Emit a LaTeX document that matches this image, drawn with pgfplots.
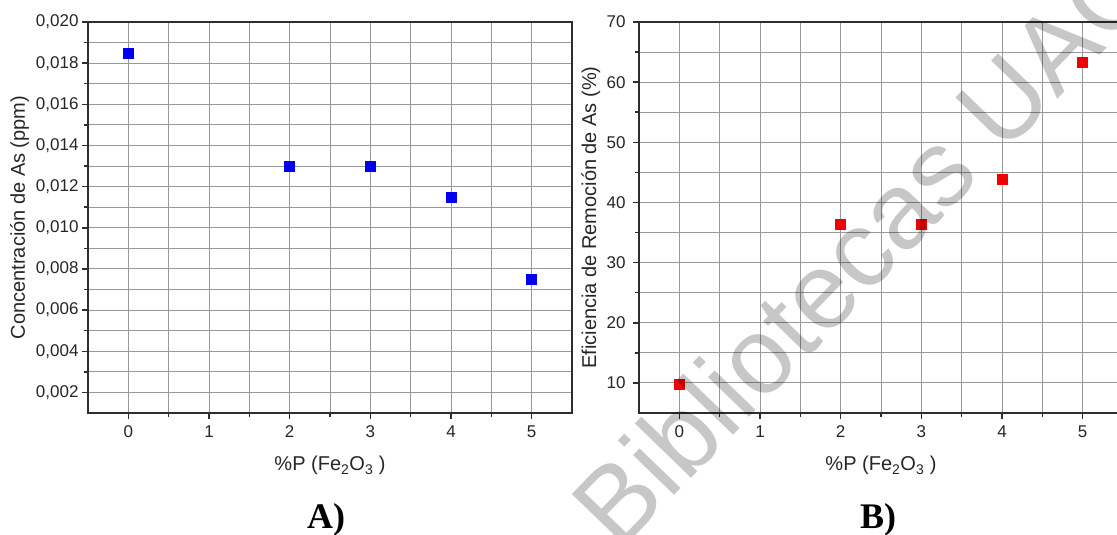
\documentclass[border=0pt]{standalone}
\usepackage{pgfplots}
\pgfplotsset{compat=1.18}
\usepackage{fontspec}
\setmainfont{Liberation Sans}
\newfontfamily\serifbf{Liberation Serif}
\definecolor{myblue}{RGB}{0,0,238}
\definecolor{myred}{RGB}{240,0,0}
\pgfplotsset{
 myaxis/.style={
  scale only axis, width=484pt, height=391pt,
  xmin=-0.5, xmax=5.5, xtick={0,1,2,3,4,5}, minor x tick num=1,
  tick align=outside, xtick pos=bottom, ytick pos=left,
  major tick length=6pt, minor tick length=4pt,
  grid=both,
  major grid style={black!40, line width=0.9pt},
  minor grid style={black!40, line width=0.9pt},
  axis line style={line width=2.2pt, black!82},
  every tick/.style={black!82, line width=1.5pt},
  tick label style={font=\fontsize{17}{20}\selectfont, text=black!85},
  xticklabel style={yshift=-3pt},
  label style={font=\fontsize{20}{24}\selectfont, text=black!85},
  /pgf/number format/assume math mode=true,
  xlabel={\%P (Fe\textsubscript{2}O\textsubscript{3} )},
  xlabel style={at={(axis description cs:0.5,-0.135)}, anchor=center},
 }
}
\begin{document}
\begin{tikzpicture}
\useasboundingbox (0,0) rectangle (1117pt,535pt);
\clip (0,0) rectangle (1117pt,535pt);
\begin{axis}[myaxis, at={(88pt,122pt)}, anchor=south west,
  ymin=0.001, ymax=0.020,
  ytick={0.002,0.004,0.006,0.008,0.010,0.012,0.014,0.016,0.018,0.020},
  minor y tick num=1, scaled y ticks=false,
  yticklabel style={/pgf/number format/.cd, fixed, fixed zerofill, precision=3, use comma},
  ylabel={Concentración de As (ppm)},
  ylabel style={at={(axis description cs:-0.1415,0.5)}, anchor=center},
]
\addplot[only marks, mark=square*, mark size=5pt, myblue, mark options={fill=myblue, draw=myblue}]
 coordinates {(0,0.0185) (2,0.0130) (3,0.0130) (4,0.0115) (5,0.0075)};
\end{axis}
\begin{axis}[myaxis, at={(639pt,122pt)}, anchor=south west,
  ymin=5, ymax=70,
  ytick={10,20,30,40,50,60,70},
  minor y tick num=1,
  yticklabel style={xshift=-4pt},
  ylabel={Eficiencia de Remoción de As (\%)},
  ylabel style={at={(axis description cs:-0.0994,0.5)}, anchor=center},
]
\addplot[only marks, mark=square*, mark size=5pt, myred, mark options={fill=myred, draw=myred}]
 coordinates {(0,9.8) (2,36.4) (3,36.4) (4,43.8) (5,63.3)};
\end{axis}
\node[font=\serifbf\bfseries\fontsize{36}{40}\selectfont, anchor=base] at (326pt,6pt) {A)};
\node[font=\serifbf\bfseries\fontsize{36}{40}\selectfont, anchor=base] at (878pt,6pt) {B)};
\node[rotate=46, text=black, text opacity=0.22, font=\fontsize{108}{108}\selectfont] at (863pt,290pt) {Bibliotecas UAC};
\end{tikzpicture}
\end{document}
